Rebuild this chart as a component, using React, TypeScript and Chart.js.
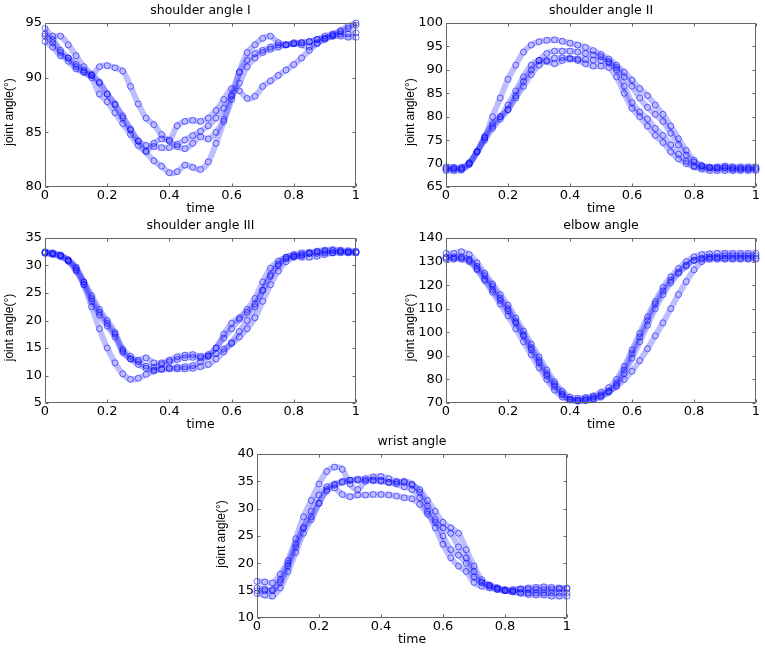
import React, { useEffect, useRef } from 'react';
import { Chart, registerables } from 'chart.js';

Chart.register(...registerables);

// ---------- data ----------
const TIME = [0, 0.025, 0.05, 0.075, 0.1, 0.125, 0.15, 0.175, 0.2, 0.225, 0.25, 0.275, 0.3, 0.325, 0.35, 0.375, 0.4, 0.425, 0.45, 0.475, 0.5, 0.525, 0.55, 0.575, 0.6, 0.625, 0.65, 0.675, 0.7, 0.725, 0.75, 0.775, 0.8, 0.825, 0.85, 0.875, 0.9, 0.925, 0.95, 0.975, 1];

const X_TICKS = [0, 0.2, 0.4, 0.6, 0.8, 1];

const TITLES = ['shoulder angle I', 'shoulder angle II', 'shoulder angle III', 'elbow angle', 'wrist angle'];
const X_LABEL = 'time';
const Y_LABEL = 'joint angle(°)';

const Y_TICKS_SH1 = [80, 85, 90, 95];
const Y_TICKS_SH2 = [65, 70, 75, 80, 85, 90, 95, 100];
const Y_TICKS_SH3 = [5, 10, 15, 20, 25, 30, 35];
const Y_TICKS_ELBOW = [70, 80, 90, 100, 110, 120, 130, 140];
const Y_TICKS_WRIST = [10, 15, 20, 25, 30, 35, 40];

// shoulder angle I
const SH1_A = [94.5, 93.8, 93.8, 93, 92, 91, 90.3, 89.6, 88.5, 87.6, 86.5, 85.3, 84.2, 83.2, 82.4, 81.9, 81.3, 81.4, 82, 81.8, 81.6, 82.3, 84, 86, 88, 90.5, 92.3, 93, 93.6, 93.8, 93.2, 93, 93.2, 93.2, 93.3, 93.5, 93.8, 94, 94.2, 94.5, 94.8];
const SH1_B = [93.3, 92.8, 92, 91.8, 91, 90.5, 90.2, 91, 91.1, 90.9, 90.6, 89.2, 87.6, 86.3, 85.7, 84.8, 84.3, 85.6, 86, 86.1, 86, 86.3, 87, 88, 89, 88.8, 88.1, 88.3, 89.2, 89.7, 90.2, 90.7, 91.2, 91.8, 92.5, 93.1, 93.5, 93.9, 94.3, 94.7, 95];
const SH1_C = [94, 93.5, 92.5, 91.8, 91.2, 90.7, 90.2, 89.5, 88.5, 87.5, 86.3, 85.2, 84.2, 83.8, 83.7, 83.6, 83.6, 83.9, 84.3, 84.7, 85.1, 85.6, 86.3, 87.2, 88.3, 89.5, 91, 91.8, 92.3, 92.6, 92.8, 93, 93.1, 93.2, 93.3, 93.5, 93.6, 93.8, 94, 94, 94.1];
const SH1_D = [93.8, 93.2, 92.3, 91.5, 90.8, 90.5, 90, 88.5, 87.8, 86.8, 85.8, 84.8, 83.8, 83.3, 84, 84.4, 84.2, 83.7, 83.5, 84, 84.6, 84.4, 85, 86.2, 88.4, 90.5, 91.6, 92.2, 92.5, 92.8, 93, 93, 93.1, 93, 92.8, 93.2, 93.6, 93.8, 93.8, 93.7, 93.7];

// shoulder angle II
const SH2_A = [69, 69, 69, 70, 72.5, 75.5, 80, 84, 88, 91, 93.8, 95.3, 96, 96.3, 96.4, 96.1, 95.7, 95.3, 94.8, 94.1, 93.3, 92.3, 91, 89.5, 87.8, 86, 84.5, 82.5, 80.5, 78, 75.3, 72.8, 70.7, 69.6, 69.2, 69, 69, 68.8, 68.8, 68.8, 68.8];
const SH2_B = [69.3, 69.2, 69.2, 70.2, 72.5, 75, 77.5, 79.5, 81.5, 84.5, 87.5, 90, 92, 93.5, 94, 94, 94, 93.8, 93.5, 93.2, 92.8, 91.8, 90.5, 88.5, 86.5, 84, 82, 80.5, 79, 76.5, 74, 71.8, 70.3, 69.5, 69.2, 69.3, 69.5, 69.3, 69.3, 69.3, 69.3];
const SH2_C = [68.8, 68.8, 68.8, 70, 72.5, 75.5, 78, 80, 82.5, 85.5, 88.5, 91, 92, 91.8, 91.3, 92, 92.3, 92.3, 92.2, 92.1, 92, 91.5, 90, 86.5, 83, 81, 79.5, 77.5, 76, 74, 72, 70.5, 69.5, 69.2, 69, 69, 69.2, 69.1, 69, 69, 69];
const SH2_D = [68.5, 68.5, 68.6, 69.8, 72.5, 75.8, 78.5, 80, 81.5, 84, 86.5, 89, 91, 92, 92.5, 92.6, 92.5, 92, 91.3, 90.8, 90.8, 90.5, 88.5, 85, 81.8, 80, 78, 76, 74.5, 72.5, 71, 70, 69.3, 68.8, 68.5, 68.5, 68.5, 68.5, 68.5, 68.5, 68.5];

// shoulder angle III
const SH3_A = [32.5, 32.3, 31.8, 30.8, 29, 26.5, 22.5, 18.5, 15, 12.3, 10.3, 9.3, 9.5, 10.2, 10.8, 11.2, 11.4, 11.5, 11.6, 11.8, 12.5, 13.5, 15, 16.8, 18.5, 20.2, 21.5, 23, 25.5, 28, 30, 31.2, 31.6, 31.8, 32.2, 32.5, 32.6, 32.7, 32.6, 32.4, 32.3];
const SH3_B = [32.3, 32.1, 31.8, 31, 29.5, 27, 24, 21.5, 19.5, 17.5, 14.5, 13, 12.8, 13.2, 12.3, 12.3, 12.8, 13.4, 13.7, 13.8, 13.5, 13.8, 15, 17.5, 19.5, 20.5, 22, 24, 27, 29.5, 30.8, 31.5, 31.8, 31.5, 31.5, 31.7, 32, 32.3, 32.5, 32.5, 32.5];
const SH3_C = [32.2, 32, 31.6, 30.8, 29.2, 26.5, 23.5, 21, 19, 17, 14.2, 13, 12, 11.3, 11, 11.1, 11.2, 11.2, 11.2, 11.3, 11.6, 12, 13, 14.3, 16, 18, 20, 22.5, 25.5, 28.3, 30.3, 31.5, 32, 32.3, 32.4, 32.6, 32.8, 32.9, 32.8, 32.7, 32.6];
const SH3_D = [32.4, 32.2, 31.9, 31, 29.7, 27, 24.5, 22, 20, 17.8, 14.8, 13.5, 12.5, 11.7, 11.5, 12, 12.5, 12.9, 13.2, 13.3, 13.2, 13.5, 14, 14.8, 15.8, 17, 18.5, 20.5, 23.5, 26.5, 29, 30.7, 31.5, 32, 32.2, 32.2, 32.3, 32.3, 32.3, 32.3, 32.3];

// elbow angle
const ELB_A = [131, 131, 131, 130, 127, 122.5, 118, 113.5, 109, 104, 98.5, 92.5, 87, 81.5, 77, 73.5, 71.5, 71, 71.2, 71.8, 73, 75, 78.5, 84, 91, 98, 105, 112, 117.5, 122, 125.5, 128.5, 130.5, 131, 131, 131, 131, 131, 131, 131, 131];
const ELB_B = [133.5, 133.5, 134.2, 133, 129.5, 125, 120.5, 116, 111.5, 106, 100.5, 95, 89.5, 84, 79, 75, 72.5, 72, 72.3, 73, 74.5, 76.5, 80, 85.5, 92.5, 99.5, 106.5, 113, 119, 123.5, 127, 130, 132, 133, 133.3, 133.5, 133.5, 133.5, 133.5, 133.5, 133.5];
const ELB_C = [132, 132, 132, 131, 128, 124, 119.5, 114.5, 110, 104.5, 99, 93.5, 88, 82.5, 78, 74, 71.5, 70.8, 71, 71.5, 72.5, 74.5, 77.5, 82.5, 89, 96, 103, 110, 116, 121, 125, 128, 130.5, 131.5, 132, 132, 132.5, 132.5, 132.5, 132.5, 132.5];
const ELB_D = [131.5, 131.5, 131.5, 130.5, 126.5, 122, 117, 112, 107, 101.5, 96, 90.5, 85, 80, 75.5, 72.5, 71.2, 71.2, 71.8, 72.5, 73.5, 75, 77, 80, 83.5, 88, 93, 98.5, 104, 110, 116, 121.5, 126.5, 130, 131.5, 131.5, 131.5, 131.5, 131.5, 131.5, 131.5];

// wrist angle
const WR_A = [16.7, 16.6, 16.4, 18, 20.5, 24.5, 28.5, 31.5, 34.5, 36.8, 37.6, 37.2, 34.5, 33.5, 35, 35.3, 35.2, 34.8, 34.5, 34, 33.5, 32, 29.5, 26.5, 23.5, 21, 19.5, 18.5, 16.5, 15.8, 15.5, 15.2, 15, 15, 15.3, 15.5, 15.6, 15.7, 15.6, 15.5, 15.5];
const WR_B = [15, 15, 15.2, 17, 20, 23.5, 26.5, 28.5, 31, 33.2, 33.8, 32.6, 32.2, 32.5, 32.5, 32.6, 32.6, 32.5, 32.3, 32, 31.8, 30.8, 29, 27.5, 26.5, 25.5, 23, 21, 18.5, 16.5, 15.8, 15.3, 15, 14.8, 14.5, 14.3, 14.2, 14.2, 14, 14, 14];
const WR_C = [14.5, 14.2, 14, 15.5, 18.5, 22, 25.5, 28, 31, 33.5, 34.3, 34.8, 35.2, 35.4, 35.5, 35.8, 35.9, 35.5, 35, 34.8, 34.3, 33.5, 31.5, 29.5, 27.5, 26.5, 25.5, 22.5, 19.5, 17, 16, 15.5, 15, 14.8, 14.7, 14.6, 14.6, 14.6, 14.6, 14.6, 14.6];
const WR_D = [15.5, 15.3, 15, 16.5, 19.5, 23, 26.5, 29.5, 32.5, 34, 34.5, 35, 35.2, 35.2, 35.2, 35.1, 35, 34.8, 34.8, 35, 34.5, 33, 30.5, 28, 25, 22.5, 21.5, 20, 17.5, 16.5, 16, 15.5, 15.2, 15.2, 15.3, 15.2, 15.2, 15.2, 15.2, 15.3, 15.3];

// ---------- layout ----------
const LM = 45; // y-axis box width
const TM = 23; // title box height
const RM = 8;
const BM = 29; // x-axis box height

const FONT_MAIN = 'DejaVu Sans';
const FONT_YLAB = 'Liberation Sans';

type PanelCfg = {
  title: string;
  yTicks: number[];
  series: number[][];
  plot: { l: number; r: number; t: number; b: number };
  yLabelShift: number;
};

const PANELS: PanelCfg[] = [
  { title: TITLES[0], yTicks: Y_TICKS_SH1, series: [SH1_A, SH1_B, SH1_C, SH1_D], plot: { l: 45, r: 356, t: 23, b: 187 }, yLabelShift: 7 },
  { title: TITLES[1], yTicks: Y_TICKS_SH2, series: [SH2_A, SH2_B, SH2_C, SH2_D], plot: { l: 446, r: 756, t: 23, b: 187 }, yLabelShift: 7 },
  { title: TITLES[2], yTicks: Y_TICKS_SH3, series: [SH3_A, SH3_B, SH3_C, SH3_D], plot: { l: 45, r: 356, t: 238, b: 403 }, yLabelShift: 7 },
  { title: TITLES[3], yTicks: Y_TICKS_ELBOW, series: [ELB_A, ELB_B, ELB_C, ELB_D], plot: { l: 446, r: 756, t: 238, b: 403 }, yLabelShift: 7 },
  { title: TITLES[4], yTicks: Y_TICKS_WRIST, series: [WR_A, WR_B, WR_C, WR_D], plot: { l: 257, r: 567, t: 454, b: 618 }, yLabelShift: -2 },
];

const boxPlugin = {
  id: 'matlabBox',
  afterDatasetsDraw(chart: any) {
    const { ctx, chartArea: a, scales } = chart;
    const xs = scales.x;
    const ys = scales.y;
    const L = Math.round(a.left) + 0.5;
    const R = Math.round(a.right) - 0.5;
    const T = Math.round(a.top) + 0.5;
    const B = Math.round(a.bottom) - 0.5;
    ctx.save();
    ctx.strokeStyle = '#666';
    ctx.lineWidth = 1;
    ctx.beginPath();
    ctx.rect(L, T, R - L, B - T);
    const tl = 3;
    xs.ticks.forEach((t: any) => {
      const p = Math.round(xs.getPixelForValue(t.value)) + 0.5;
      ctx.moveTo(p, B);
      ctx.lineTo(p, B - tl);
      ctx.moveTo(p, T);
      ctx.lineTo(p, T + tl);
    });
    ys.ticks.forEach((t: any) => {
      const p = Math.round(ys.getPixelForValue(t.value)) + 0.5;
      ctx.moveTo(L, p);
      ctx.lineTo(L + tl, p);
      ctx.moveTo(R, p);
      ctx.lineTo(R - tl, p);
    });
    ctx.stroke();
    ctx.restore();
  },
};

const yLabelPlugin = {
  id: 'yLabel',
  afterDraw(chart: any, _args: any, opts: any) {
    const { ctx, chartArea: a } = chart;
    ctx.save();
    ctx.translate(a.left - 35, (a.top + a.bottom) / 2 + (opts.shift || 0));
    ctx.rotate(-Math.PI / 2);
    ctx.font = `12px "${FONT_YLAB}"`;
    ctx.fillStyle = '#000';
    ctx.textAlign = 'center';
    ctx.textBaseline = 'middle';
    ctx.fillText(opts.text, 0, 0);
    ctx.restore();
  },
};

function Panel({ cfg }: { cfg: PanelCfg }) {
  const ref = useRef<HTMLCanvasElement>(null);
  const left = cfg.plot.l - LM;
  const top = cfg.plot.t - TM;
  const width = cfg.plot.r - left + RM;
  const height = cfg.plot.b - top + BM;

  useEffect(() => {
    if (!ref.current) return;
    const tickFont = { family: FONT_MAIN, size: 13, weight: 'normal' as const };
    const chart = new Chart(ref.current, {
      type: 'line',
      data: {
        datasets: cfg.series.map((s) => ({
          data: s.map((v, i) => ({ x: TIME[i], y: v })),
          borderColor: 'rgba(40,40,255,0.3)',
          borderWidth: 6,
          tension: 0.35,
          pointRadius: 3,
          pointBorderWidth: 1,
          pointBorderColor: 'rgba(0,0,255,0.55)',
          pointBackgroundColor: 'rgba(0,0,0,0)',
          fill: false,
          clip: 4,
        })),
      },
      options: {
        animation: false,
        responsive: false,
        events: [],
        layout: { padding: { left: 0, top: 0, right: RM, bottom: 0 } },
        plugins: {
          legend: { display: false },
          tooltip: { enabled: false },
          title: {
            display: true,
            text: cfg.title,
            fullSize: false,
            color: '#000',
            font: { family: FONT_MAIN, size: 12.5, weight: 'normal', lineHeight: 1.2 },
            padding: { top: 3, bottom: TM - 3 - 15 },
          },
          yLabel: { text: Y_LABEL, shift: cfg.yLabelShift },
        } as any,
        scales: {
          x: {
            type: 'linear',
            min: 0,
            max: 1,
            afterBuildTicks: (s: any) => {
              s.ticks = X_TICKS.map((v) => ({ value: v }));
            },
            afterFit: (s: any) => {
              s.height = BM;
            },
            ticks: {
              callback: (v: any) => String(v),
              font: tickFont,
              color: '#000',
              padding: 1,
              maxRotation: 0,
              autoSkip: false,
            },
            grid: { display: false, drawTicks: false },
            border: { display: false },
            title: {
              display: true,
              text: X_LABEL,
              color: '#000',
              font: { family: FONT_MAIN, size: 12.5, weight: 'normal', lineHeight: 1.2 },
              padding: { top: 0, bottom: 0 },
            },
          },
          y: {
            type: 'linear',
            min: cfg.yTicks[0],
            max: cfg.yTicks[cfg.yTicks.length - 1],
            afterBuildTicks: (s: any) => {
              s.ticks = cfg.yTicks.map((v) => ({ value: v }));
            },
            afterFit: (s: any) => {
              s.width = LM;
            },
            ticks: {
              callback: (v: any) => String(v),
              font: tickFont,
              color: '#000',
              padding: 3,
              autoSkip: false,
            },
            grid: { display: false, drawTicks: false },
            border: { display: false },
          },
        },
      } as any,
      plugins: [boxPlugin, yLabelPlugin],
    });
    return () => chart.destroy();
  }, []);

  return (
    <div style={{ position: 'absolute', left, top, width, height }}>
      <canvas ref={ref} width={width} height={height} style={{ width, height, display: 'block' }} />
    </div>
  );
}

export default function App() {
  return (
    <div style={{ position: 'absolute', left: 0, top: 0, width: 765, height: 650, background: '#fff' }}>
      {PANELS.map((p, i) => (
        <Panel key={i} cfg={p} />
      ))}
    </div>
  );
}
